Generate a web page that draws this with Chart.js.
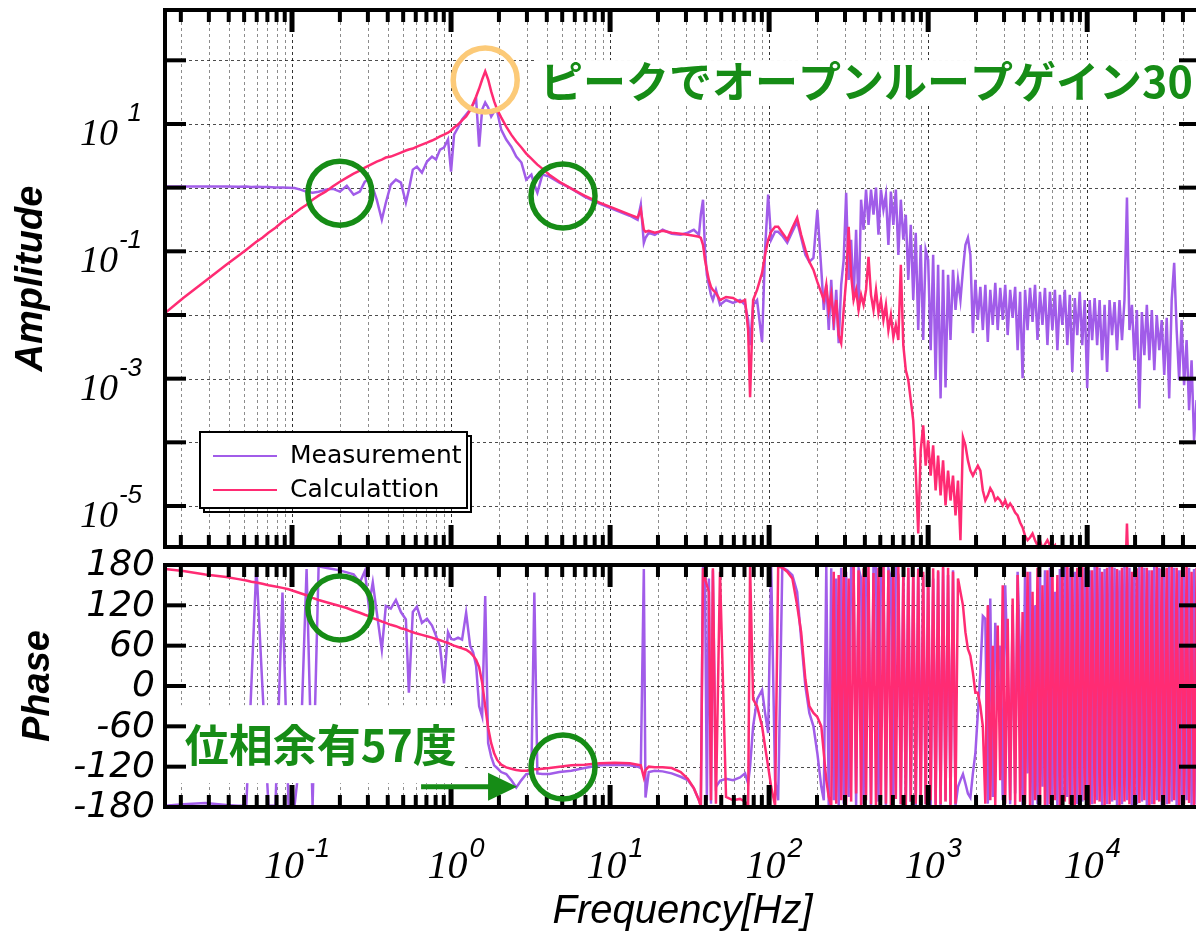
<!DOCTYPE html>
<html>
<head>
<meta charset="utf-8">
<script src="https://cdn.jsdelivr.net/npm/chart.js@4.4.1/dist/chart.umd.min.js"></script>
<style>
html, body { margin: 0; padding: 0; background: #fff; overflow: hidden; }
#wrap { position: relative; width: 1196px; height: 933px; overflow: hidden; }
canvas { position: absolute; left: 0; }
#amp { top: 0; }
#ph { top: 530px; }
</style>
</head>
<body>
<div id="wrap">
  <canvas id="amp" width="1200" height="556"></canvas>
  <canvas id="ph" width="1200" height="403"></canvas>
</div>
<script>
// frequency bins [Hz], shared by all four traces
const freq = [
  0.0159, 0.0207, 0.0285, 0.0386, 0.046, 0.0516, 0.0555, 0.0597, 0.0651, 0.0711,
  0.0787, 0.0871, 0.0951, 0.1037, 0.113, 0.1235, 0.1347, 0.147, 0.1626, 0.18,
  0.2, 0.221, 0.244, 0.267, 0.287, 0.304, 0.322, 0.341, 0.367, 0.389,
  0.418, 0.45, 0.484, 0.52, 0.543, 0.575, 0.61, 0.656, 0.706, 0.759,
  0.804, 0.853, 0.903, 0.957, 1.0, 1.045, 1.107, 1.173, 1.244, 1.318,
  1.377, 1.438, 1.502, 1.569, 1.64, 1.711, 1.788, 1.867, 1.95, 2.066,
  2.223, 2.39, 2.57, 2.77, 2.97, 3.2, 3.34, 3.49, 3.75, 4.15,
  4.8, 5.71, 6.9, 8.58, 10.7, 13.3, 14.9, 15.6, 16.3, 16.7,
  17.5, 19.1, 21.4, 24.4, 27.8, 30.8, 33.6, 36.2, 37.2, 38.4,
  39.5, 40.6, 41.8, 43.1, 44.3, 46.3, 49.1, 53.6, 59.3, 65.6,
  70.6, 73.8, 75.9, 79.3, 84, 90.3, 94.3, 98.6, 103, 109,
  114, 121, 130, 140, 150, 159, 169, 179, 190, 201,
  // dense part
  212.9, 220.7, 228.8, 237.1, 245.8, 254.8, 264.2, 273.8, 283.9, 294.3,
  305.1, 316.2, 327.8, 339.8, 352.3, 365.2, 378.6, 392.4, 406.8, 421.7,
  437.1, 453.2, 469.8, 487.0, 504.8, 523.3, 542.5, 562.3, 582.9, 604.3,
  626.4, 649.4, 673.2, 697.8, 723.4, 749.9, 777.4, 805.8, 835.4, 866.0,
  897.7, 930.6, 964.7,
  1000, 1037, 1075, 1114, 1155, 1197, 1241, 1286, 1334, 1382,
  1433, 1486, 1540, 1596, 1655, 1715, 1778, 1843, 1911, 1981,
  2054, 2129, 2207, 2288, 2371, 2458, 2548, 2642, 2738, 2839,
  2943, 3051, 3162, 3278, 3398, 3523, 3652, 3786, 3924, 4068,
  4217, 4371, 4532, 4698, 4870, 5048, 5233, 5425, 5623, 5829,
  6043, 6264, 6494, 6732, 6978, 7234, 7499, 7774, 8058, 8354,
  8660, 8977, 9306, 9647,
  10000, 10366, 10746, 11140, 11548, 11971, 12409, 12864, 13335, 13824,
  14330, 14855, 15399, 15963, 16548, 17154, 17783, 18434, 19110, 19810,
  20535, 21288, 22067, 22876, 23714, 24582, 25483, 26416, 27384, 28387,
  29427, 30505, 31623, 32781, 33982, 35227, 36517, 37855, 39242, 40679,
  42170, 43714, 45316, 46976, 48697, 50481, 52330
];

const measAmp = [
  1.04, 1.04, 1.04, 1.04, 1.03, 1.04, 1.02, 1.03, 1.02, 1.02,
  1.01, 1.01, 1.0, 0.99, 0.93, 0.865, 0.834, 0.865, 0.93, 0.964,
  0.865, 1.07, 0.776, 0.865, 1.24, 1.34, 1.0, 0.647, 0.313, 0.58,
  1.11, 1.34, 1.2, 0.58, 0.93, 1.92, 2.14, 1.72, 2.57, 3.08,
  2.76, 3.97, 4.27, 5.7, 1.79, 6.8, 8.8, 11.8, 14.1, 16.9,
  20.3, 24.3, 4.4, 16.9, 21.8, 18.2, 13.1, 15.7, 15.7, 8.2,
  5.7, 4.4, 3.08, 2.48, 1.34, 1.6, 1.11, 0.834, 1.6, 1.49,
  1.2, 0.964, 0.722, 0.56, 0.45, 0.362, 0.313, 0.54, 0.136, 0.163,
  0.196, 0.182, 0.218, 0.189, 0.182, 0.196, 0.218, 0.182, 0.376, 0.647,
  0.106, 0.0427, 0.0297, 0.0207, 0.0172, 0.0248, 0.0144, 0.0172, 0.0155, 0.0172,
  0.0144, 0.00834, 0.00337, 0.0144, 0.0172, 0.00376, 0.106, 0.776, 0.152, 0.203,
  0.203, 0.175, 0.136, 0.203, 0.292, 0.163, 0.088, 0.0684, 0.079, 0.45,
  0.0511, 0.012, 0.0297, 0.0058, 0.0356, 0.0058, 0.0248, 0.00362, 0.0297, 0.0735,
  0.834, 0.0356, 0.152, 0.0172, 0.218, 0.012, 0.647, 0.218, 0.93, 0.261,
  0.93, 0.376, 1.0, 0.182, 0.93, 0.45, 0.776, 0.126, 0.865, 0.261,
  0.93, 0.088, 0.647, 0.152, 0.376, 0.0356, 0.261, 0.0172, 0.196, 0.0058,
  0.126, 0.00404, 0.106,
  0.0735, 0.00281, 0.088, 0.00095, 0.0613, 0.00049, 0.0511, 0.00073, 0.0427, 0.00404,
  0.0511, 0.012, 0.0356, 0.0172, 0.0511, 0.126, 0.163, 0.088, 0.0052, 0.0356,
  0.00834, 0.0276, 0.0058, 0.0297, 0.00376, 0.0248, 0.00696, 0.0319, 0.0058, 0.0266,
  0.00834, 0.0297, 0.00484, 0.0248, 0.009, 0.0276, 0.00281, 0.0232, 0.00102, 0.0248,
  0.0058, 0.0266, 0.0078, 0.0297, 0.00404, 0.0232, 0.00696, 0.0266, 0.00337, 0.0232,
  0.0058, 0.0248, 0.00281, 0.0207, 0.00696, 0.0248, 0.00337, 0.0207, 0.00127, 0.0185,
  0.00484, 0.0232, 0.00337, 0.0172,
  0.00071, 0.0172, 0.00404, 0.0185, 0.00337, 0.0172, 0.00195, 0.0144, 0.00127, 0.0172,
  0.00484, 0.016, 0.00281, 0.0172, 0.00404, 0.0172, 0.697, 0.0058, 0.0144, 0.00195,
  0.012, 0.00034, 0.0111, 0.00234, 0.0144, 0.00195, 0.012, 0.00136, 0.01, 0.00281,
  0.00834, 0.00114, 0.009, 0.00049, 0.0172, 0.0659, 0.0058, 0.00095, 0.00834, 0.00079,
  0.00404, 0.00032, 0.00195, 0.000107, 0.00046, 0.000155, 0.00022
];

const calcAmp = [
  0.0107, 0.0185, 0.0343, 0.0613, 0.085, 0.106, 0.122, 0.141, 0.163, 0.196,
  0.234, 0.292, 0.337, 0.397, 0.467, 0.54, 0.647, 0.748, 0.865, 1.04,
  1.24, 1.44, 1.66, 1.85, 2.07, 2.22, 2.39, 2.57, 2.76, 2.97,
  3.08, 3.31, 3.56, 3.83, 3.97, 4.11, 4.4, 4.75, 5.1, 5.5,
  5.9, 6.4, 6.8, 7.3, 7.9, 8.8, 9.8, 11.4, 13.1, 16.3,
  21, 27, 36, 50, 67, 50, 32.5, 22.6, 16.9, 12.7,
  9.1, 6.8, 5.3, 4.27, 3.43, 2.86, 2.57, 2.3, 1.99, 1.6,
  1.24, 0.964, 0.748, 0.58, 0.467, 0.376, 0.337, 0.45, 0.218, 0.203,
  0.21, 0.196, 0.21, 0.196, 0.189, 0.182, 0.175, 0.169, 0.163, 0.126,
  0.0735, 0.0511, 0.0356, 0.0276, 0.0248, 0.0222, 0.0172, 0.0192, 0.0185, 0.016,
  0.0172, 0.0058, 0.00051, 0.0172, 0.0248, 0.0458, 0.088, 0.152, 0.203, 0.243,
  0.243, 0.196, 0.152, 0.234, 0.337, 0.182, 0.106, 0.0684, 0.0511, 0.0331,
  0.0222, 0.0172, 0.0297, 0.012, 0.0207, 0.00834, 0.0172, 0.00484, 0.00362, 0.012,
  0.0356, 0.243, 0.0427, 0.0172, 0.0248, 0.012, 0.0207, 0.0144, 0.0248, 0.082,
  0.0207, 0.012, 0.0248, 0.0108, 0.0172, 0.00834, 0.0144, 0.0058, 0.01, 0.0045,
  0.00696, 0.00404, 0.0613, 0.00337, 0.00136, 0.00095, 0.00046, 0.00022, 3.6e-5, 3.7e-6,
  7.5e-5, 1.85e-4, 4.3e-5,
  1.07e-4, 3.0e-5, 9.0e-5, 1.75e-5, 6.2e-5, 1.46e-5, 5.2e-5, 1.02e-5, 3.6e-5, 1.22e-5,
  3.0e-5, 7.1e-6, 2.5e-5, 2.9e-6, 1.2e-4, 9.0e-5, 5.2e-5, 3.6e-5, 3.0e-5, 3.6e-5,
  4.3e-5, 3.6e-5, 1.75e-5, 1.22e-5, 1.46e-5, 1.9e-5, 1.63e-5, 1.22e-5, 1.36e-5, 1.22e-5,
  1.02e-5, 1.22e-5, 9.5e-6, 1.09e-5, 9.5e-6, 7.9e-6, 7.1e-6, 5.5e-6, 4.6e-6, 3.4e-6,
  2.9e-6, 3.2e-6, 3.7e-6, 2.9e-6, 2.4e-6, 2.9e-6, 2.1e-6, 2.5e-6, 2.9e-6, 2.4e-6,
  2.2e-6, 2.4e-6, 3e-7, 3e-7, 3e-7, 3e-7, 3e-7, 3e-7, 3e-7, 3e-7,
  3e-7, 3e-7, 3e-7, 3e-7,
  3e-7, 3e-7, 3e-7, 3e-7, 3e-7, 3e-7, 3e-7, 3e-7, 3e-7, 3e-7,
  3e-7, 3e-7, 3e-7, 3e-7, 3e-7, 3e-7, 5.3e-6, 3e-7, 3e-7, 3e-7,
  3e-7, 3e-7, 3e-7, 3e-7, 3e-7, 3e-7, 3e-7, 3e-7, 3e-7, 3e-7,
  3e-7, 3e-7, 3e-7, 3e-7, 3e-7, 3e-7, 3e-7, 3e-7, 3e-7, 3e-7,
  3e-7, 3e-7, 3e-7, 3e-7, 3e-7, 3e-7, 3e-7
];

const measPhase = [
  -178, -176, -174, -177, -178, -178, 0, 178, 0, -178,
  -178, 139, -178, -178, -100, 174, -178, 178, 176, 174,
  172, 169, 166, 154, 171, 119, 154, 110, 54, 119,
  115, 128, 110, 99, -10, 110, 118, 94, 100, 90,
  75, 58, 4, 80, 70, 69, 72, 69, 109, 60,
  50, 30, -30, -45, 134, -85, -105, -118, -122, -128,
  -131, -140, -151, -140, -131, -130, 139, -130, -131, -131,
  -128, -126, -122, -118, -117, -118, -120, -122, 174, -166,
  -128, -126, -127, -130, -135, -140, -152, -170, -178, 176,
  170, -170, 160, -175, 172, -150, -141, -138, -140, -136,
  -130, -145, -120, -60, -20, -6, -40, -70, 178, -140,
  -170, 176, 172, 165, 140, 70, 0, -40, -60, -100,
  -150, -170, 178, -178, 175, -170, 160, -178, 176, -175,
  170, -165, 178, 176, -178, 175, 160, -176, 178, 150,
  -178, 176, 178, -172, 170, 176, -178, 175, 160, -170,
  178, 165, -176, 172, -178, 176, -172, 170, -178, 175,
  -170, 165, -176,
  172, -178, 160, -175, 170, -178, 176, -170, 165, -176,
  172, -178, -150, -140, -131, -145, -160, -166, -130, -100,
  -40, 20, 104, 100, -175, 130, -165, 94, 20, 60,
  -170, 150, 20, -176, 120, -160, 170, 40, -178, 176,
  -130, 170, -178, 120, -176, 178, -150, 172, -178, 176,
  -170, 140, -178, 174, -176, 178, -165, 176, -178, 170,
  -176, 178, -172, 176,
  -178, 172, -176, 178, -170, 176, -178, 174, -176, 178,
  -172, 176, -178, 172, -176, 178, -170, 176, -178, 174,
  -176, 178, -172, 176, -178, 172, -176, 178, -170, 176,
  -178, 174, -176, 178, -172, 176, -178, 172, -176, 178,
  -170, 176, -178, 174, -176, 178, -172
];

const calcPhase = [
  174, 171, 166, 162, 159, 157, 155, 154, 152, 150,
  148, 146, 144, 141, 138, 135, 131, 128, 125, 122,
  119, 116, 112, 109, 106, 104, 101, 99, 96, 94,
  91, 89, 86, 84, 82, 80, 78, 76, 74, 72,
  70, 68, 66, 64, 62, 60, 58, 56, 54, 50,
  45, 39, 28, 5, -30, -62, -85, -100, -110, -117,
  -121, -123, -125, -126, -126, -125, -124, -124, -123, -122,
  -120, -118, -117, -115, -114, -115, -117, -118, -136, -125,
  -120, -121, -121, -122, -128, -138, -152, -170, -179, 175,
  160, 150, 140, -170, 175, -175, 170, -165, -170, -168,
  -172, -178, 178, -20, -30, -60, -90, -120, -150, -178,
  178, 176, 170, 160, 120, 80, 10, -30, -40, -46,
  -60, -100, -140, -165, -178, 170, -175, 165, -170, 176,
  -178, 160, -172, 178, -160, 172, -178, 175, -170, 178,
  -176, 168, -178, 176, -170, 178, -175, 172, -178, 174,
  -168, 178, -176, 170, -178, 176, -172, 178, -175, 174,
  -178, 170, -176,
  178, -170, 175, -178, 172, -176, 178, -172, 176, -178,
  170, -175, 160, 140, 120, 80, 55, 45, 20, -10,
  -10, -30, -60, -175, 120, -170, 60, -178, 90, -140,
  150, -175, 100, -170, 130, -178, 165, -172, 110, -176,
  170, -178, 140, -170, 176, -175, 150, -178, 172, -176,
  178, -170, 165, -178, 175, -172, 178, -176, 168, -178,
  176, -174, 178, -170,
  176, -178, 172, -175, 178, -172, 170, -178, 176, -176,
  178, -170, 174, -178, 176, -172, 178, -176, 170, -178,
  175, -174, 178, -170, 176, -178, 172, -176, 178, -172,
  174, -178, 176, -175, 178, -170, 176, -178, 172, -176,
  178, -174, 170, -178, 176, -172, 178
];

// axes
const X_MIN = 0.0159, X_MAX = 51200;
const AMP_MIN = 2.27e-6, AMP_MAX = 617;
const xDecades = [-2, -1, 0, 1, 2, 3, 4];
const xLabelExps = [-1, 0, 1, 2, 3, 4];
const ampDecades = [-5, -4, -3, -2, -1, 0, 1, 2];
const ampLabelExps = [1, -1, -3, -5];
const phaseTicks = [-180, -120, -60, 0, 60, 120, 180];

// notes drawn on top (data coordinates)
const peakCircle = { f: 1.64, a: 49 };
const ampCircles = [{ f: 0.2, a: 0.82 }, { f: 5.06, a: 0.74 }];
const phaseCircles = [{ f: 0.2, p: 116 }, { f: 5.06, p: -120.5 }];
const peakNote = { f: 3.63, a: 45.6, text: 'ピークでオープンループゲイン30' };
const marginNote = { f: 0.0212, p: -88, text: '位相余有57度' };
const marginArrow = { f0: 0.648, f1: 2.6, p: -150 };

const PURPLE = '#a15ce9';
const PINK = '#ff2b73';
const GREEN = '#168c16';
const ORANGE = '#fcca78';
const LINE_W = 2.5;

const xTicks = [];
xDecades.forEach(e => {
  [1, 2, 3, 4, 5, 6, 7, 8, 9].forEach(m => {
    const v = m * Math.pow(10, e);
    if (v >= X_MIN && v <= X_MAX) xTicks.push({ value: v, major: m === 1 });
  });
});
const ampTicks = ampDecades.map(e => Math.pow(10, e));

const pts = ys => freq.map((f, i) => ({ x: f, y: ys[i] }));

function seg(ctx, x1, y1, x2, y2) {
  ctx.beginPath();
  ctx.moveTo(x1, y1);
  ctx.lineTo(x2, y2);
  ctx.stroke();
}

function drawGrid(chart, yVals) {
  const { ctx, chartArea: a, scales: { x, y } } = chart;
  ctx.save();
  ctx.lineWidth = 1;
  ctx.setLineDash([3, 3]);
  xTicks.forEach(t => {
    const px = Math.round(x.getPixelForValue(t.value)) + 0.5;
    ctx.strokeStyle = t.major ? 'rgba(0,0,0,0.8)' : 'rgba(0,0,0,0.45)';
    seg(ctx, px, a.top, px, a.bottom);
  });
  ctx.strokeStyle = 'rgba(0,0,0,0.7)';
  yVals.forEach(v => {
    const py = Math.round(y.getPixelForValue(v)) + 0.5;
    seg(ctx, a.left, py, a.right, py);
  });
  ctx.restore();
}

function drawFrame(chart, yVals) {
  const { ctx, chartArea: a, scales: { x, y } } = chart;
  ctx.save();
  ctx.strokeStyle = '#000';
  ctx.setLineDash([]);
  xTicks.forEach(t => {
    const px = x.getPixelForValue(t.value);
    const len = t.major ? 22 : 12;
    ctx.lineWidth = t.major ? 5 : 4;
    seg(ctx, px, a.top, px, a.top + len);
    seg(ctx, px, a.bottom, px, a.bottom - len);
  });
  ctx.lineWidth = 4;
  yVals.forEach(v => {
    const py = y.getPixelForValue(v);
    seg(ctx, a.left, py, a.left + 21, py);
    seg(ctx, a.right, py, a.right - 21, py);
  });
  ctx.strokeRect(a.left, a.top, a.right - a.left, a.bottom - a.top);
  ctx.restore();
}

function ring(ctx, cx, cy, color) {
  ctx.beginPath();
  ctx.arc(cx, cy, 32, 0, Math.PI * 2);
  ctx.strokeStyle = color;
  ctx.lineWidth = 5.5;
  ctx.stroke();
}

function drawLegend(chart) {
  const { ctx, chartArea: a } = chart;
  const bx = a.left + 35, by = a.bottom - 115, bw = 267, bh = 76;
  ctx.save();
  ctx.setLineDash([]);
  ctx.strokeStyle = '#000';
  ctx.lineWidth = 2;
  ctx.strokeRect(bx + 4, by + 4, bw, bh);
  ctx.fillStyle = '#fff';
  ctx.fillRect(bx, by, bw, bh);
  ctx.strokeRect(bx, by, bw, bh);
  const rows = [['Measurement', PURPLE, 24], ['Calculattion', PINK, 58]];
  ctx.font = '25px "DejaVu Sans"';
  ctx.textBaseline = 'middle';
  ctx.textAlign = 'left';
  rows.forEach(([label, color, dy]) => {
    ctx.strokeStyle = color;
    ctx.lineWidth = 2;
    seg(ctx, bx + 13, by + dy, bx + 77, by + dy);
    ctx.fillStyle = '#000';
    ctx.fillText(label, bx + 90, by + dy);
  });
  ctx.restore();
}

const ampDeco = {
  id: 'ampDeco',
  beforeDatasetsDraw(chart) { drawGrid(chart, ampTicks); },
  afterDatasetsDraw(chart) {
    const { ctx, chartArea: a, scales: { x, y } } = chart;
    // white box behind the note
    ctx.save();
    ctx.font = 'bold 43px "Noto Sans CJK JP"';
    const tx = x.getPixelForValue(peakNote.f), ty = y.getPixelForValue(peakNote.a);
    const tw = ctx.measureText(peakNote.text).width;
    ctx.fillStyle = '#fff';
    ctx.fillRect(tx - 5, ty - 22, tw + 8, 44);
    ctx.restore();
    drawLegend(chart);
    drawFrame(chart, ampTicks);
    ctx.save();
    ring(ctx, x.getPixelForValue(peakCircle.f), y.getPixelForValue(peakCircle.a), ORANGE);
    ampCircles.forEach(c => ring(ctx, x.getPixelForValue(c.f), y.getPixelForValue(c.a), GREEN));
    ctx.font = 'bold 43px "Noto Sans CJK JP"';
    ctx.fillStyle = GREEN;
    ctx.textBaseline = 'middle';
    ctx.textAlign = 'left';
    ctx.fillText(peakNote.text, tx, ty);
    // tick labels 10^n
    ctx.fillStyle = '#000';
    ctx.textBaseline = 'alphabetic';
    ctx.textAlign = 'right';
    ampLabelExps.forEach(e => {
      const py = y.getPixelForValue(Math.pow(10, e));
      ctx.font = 'italic 38px "Liberation Sans Narrow"';
      ctx.fillText('10', a.left - 47, py + 21);
      ctx.font = 'italic 26px "Liberation Sans"';
      ctx.fillText(String(e), a.left - 23, py - 3);
    });
    ctx.restore();
  }
};

const phaseDeco = {
  id: 'phaseDeco',
  beforeDatasetsDraw(chart) { drawGrid(chart, phaseTicks); },
  afterDatasetsDraw(chart) {
    const { ctx, chartArea: a, scales: { x, y } } = chart;
    ctx.save();
    ctx.font = 'bold 44px "Noto Sans CJK JP"';
    const tx = x.getPixelForValue(marginNote.f), ty = y.getPixelForValue(marginNote.p);
    const tw = ctx.measureText(marginNote.text).width;
    ctx.fillStyle = '#fff';
    ctx.fillRect(tx - 17, ty - 40, tw + 24, 78);
    ctx.restore();
    drawFrame(chart, phaseTicks);
    ctx.save();
    phaseCircles.forEach(c => ring(ctx, x.getPixelForValue(c.f), y.getPixelForValue(c.p), GREEN));
    ctx.font = 'bold 44px "Noto Sans CJK JP"';
    ctx.fillStyle = GREEN;
    ctx.textBaseline = 'middle';
    ctx.textAlign = 'left';
    ctx.fillText(marginNote.text, tx, ty);
    // arrow
    const ax0 = x.getPixelForValue(marginArrow.f0), ax1 = x.getPixelForValue(marginArrow.f1);
    const ay = y.getPixelForValue(marginArrow.p);
    ctx.strokeStyle = GREEN;
    ctx.lineWidth = 5;
    seg(ctx, ax0, ay, ax1 - 26, ay);
    ctx.beginPath();
    ctx.moveTo(ax1 - 29, ay - 14);
    ctx.lineTo(ax1, ay);
    ctx.lineTo(ax1 - 29, ay + 14);
    ctx.closePath();
    ctx.fill();
    // phase tick labels
    ctx.fillStyle = '#000';
    ctx.font = 'italic 36px "DejaVu Sans"';
    ctx.textAlign = 'right';
    ctx.textBaseline = 'middle';
    phaseTicks.forEach(v => ctx.fillText(String(v), a.left - 10, y.getPixelForValue(v) + 1));
    // frequency tick labels
    ctx.textBaseline = 'alphabetic';
    ctx.textAlign = 'left';
    const big = 'italic 40px "Liberation Sans Narrow"', small = 'italic 27px "Liberation Sans"';
    xLabelExps.forEach(e => {
      const px = x.getPixelForValue(Math.pow(10, e));
      ctx.font = big;
      const w1 = ctx.measureText('10').width;
      ctx.font = small;
      const w2 = ctx.measureText(String(e)).width;
      const left = px + 5 - (w1 + 2 + w2) / 2;
      ctx.font = big;
      ctx.fillText('10', left, a.bottom + 71);
      ctx.font = small;
      ctx.fillText(String(e), left + w1 + 2, a.bottom + 50);
    });
    ctx.restore();
  }
};

const common = {
  responsive: false,
  animation: false,
  devicePixelRatio: 1,
  events: [],
  plugins: { legend: { display: false }, tooltip: { enabled: false } },
  elements: { point: { radius: 0 }, line: { borderWidth: LINE_W, tension: 0 } }
};

function xScale(h, title) {
  return {
    type: 'logarithmic',
    min: X_MIN,
    max: X_MAX,
    afterBuildTicks: s => { s.ticks = xTicks.map(t => ({ value: t.value })); },
    afterFit: s => { s.height = h; },
    ticks: { display: false },
    grid: { display: false, drawTicks: false },
    border: { display: false },
    title: title || { display: false }
  };
}

function yTitle(text, pad) {
  return {
    display: true,
    text: text,
    color: '#000',
    font: { family: 'Liberation Sans', size: 38, weight: 'bold', style: 'italic', lineHeight: 1.2 },
    padding: { top: pad, bottom: 0 }
  };
}

new Chart(document.getElementById('amp'), {
  type: 'line',
  data: {
    datasets: [
      { label: 'Calculattion', data: pts(calcAmp), borderColor: PINK, borderWidth: LINE_W, order: 0 },
      { label: 'Measurement', data: pts(measAmp), borderColor: PURPLE, borderWidth: LINE_W, order: 1 }
    ]
  },
  options: Object.assign({}, common, {
    layout: { padding: { top: 10, right: 0, bottom: 0, left: 0 } },
    scales: {
      x: xScale(9),
      y: {
        type: 'logarithmic',
        min: AMP_MIN,
        max: AMP_MAX,
        afterBuildTicks: s => { s.ticks = ampTicks.map(v => ({ value: v })); },
        afterFit: s => { s.width = 165; },
        ticks: { display: false },
        grid: { display: false, drawTicks: false },
        border: { display: false },
        title: yTitle('Amplitude', 9)
      }
    }
  }),
  plugins: [ampDeco]
});

new Chart(document.getElementById('ph'), {
  type: 'line',
  data: {
    datasets: [
      { label: 'Calculattion', data: pts(calcPhase), borderColor: PINK, borderWidth: LINE_W, order: 0 },
      { label: 'Measurement', data: pts(measPhase), borderColor: PURPLE, borderWidth: LINE_W, order: 1 }
    ]
  },
  options: Object.assign({}, common, {
    layout: { padding: { top: 35, right: 0, bottom: 0, left: 0 } },
    scales: {
      x: xScale(126, {
        display: true,
        text: 'Frequency[Hz]',
        color: '#000',
        font: { family: 'Liberation Sans', size: 40, style: 'italic', lineHeight: 1 },
        padding: { top: 0, bottom: 1 }
      }),
      y: {
        type: 'linear',
        min: -180,
        max: 180,
        afterBuildTicks: s => { s.ticks = phaseTicks.map(v => ({ value: v })); },
        afterFit: s => { s.width = 165; },
        ticks: { display: false },
        grid: { display: false, drawTicks: false },
        border: { display: false },
        title: yTitle('Phase', 16)
      }
    }
  }),
  plugins: [phaseDeco]
});
</script>
</body>
</html>
